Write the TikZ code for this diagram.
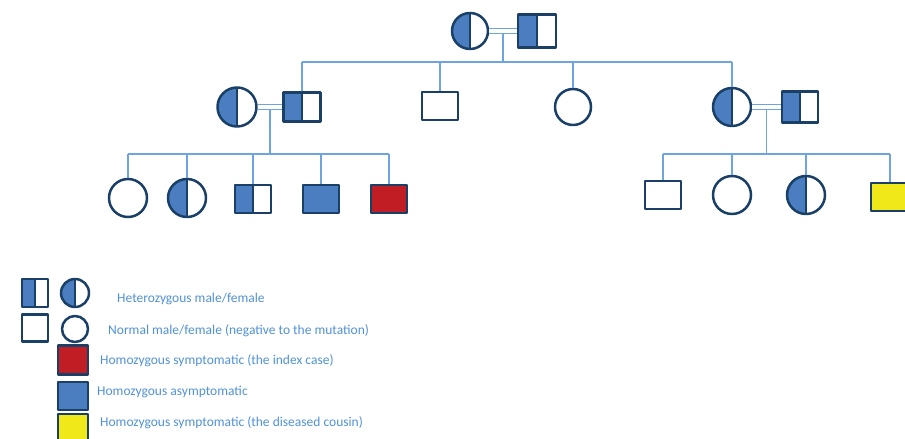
\documentclass[tikz,border=0pt]{standalone}
\usepackage{fontspec}
\setmainfont{Carlito}
\definecolor{pedblue}{RGB}{74,126,192}
\definecolor{pedline}{RGB}{26,64,104}
\definecolor{pedlink}{RGB}{110,165,225}
\definecolor{pedred}{RGB}{192,30,36}
\definecolor{pedyellow}{RGB}{240,232,24}
\definecolor{pedtext}{RGB}{80,145,215}
\begin{document}
\begin{tikzpicture}[x=1pt,y=-1pt,join=round]
    \tikzstyle{male} = [draw=pedline,line width=2.5pt,fill=white,minimum width=36pt,
                        minimum height=28pt,inner sep=0pt]
    \tikzstyle{female} = [draw=pedline,line width=2.5pt,fill=white,circle,
                          minimum size=38pt,inner sep=0pt]
    \tikzstyle{het} = [path picture={\fill[pedblue] (path picture bounding box.south west)
                          rectangle (path picture bounding box.north);
                       \draw[pedline,line width=2.2pt] (path picture bounding box.south)
                          -- (path picture bounding box.north);}]
    \tikzstyle{link} = [draw=pedlink,line width=1.2pt]
    \tikzstyle{couple} = [link,double=white,double distance=4pt]
    \tikzstyle{key} = [text=pedtext,anchor=west,inner sep=0pt,
                       font=\fontsize{13.5}{15}\selectfont]
    \useasboundingbox (0,0) rectangle (905,439);
    % generation I
    \node[female,het,minimum size=36pt] (g1f) at (470,31) {};
    \node[male,het,minimum width=38pt,minimum height=33pt] (g1m) at (537,31) {};
    % generation II
    \node[female,het,minimum size=39pt] (g2a) at (237,107) {};
    \node[male,het,minimum width=37pt,minimum height=29pt] (g2b) at (302,107) {};
    \node[male] (g2c) at (440,106) {};
    \node[female,minimum size=36pt] (g2d) at (573,107) {};
    \node[female,het] (g2e) at (732,107) {};
    \node[male,het,minimum height=31pt] (g2f) at (800,107) {};
    % generation III
    \node[female] (g3a) at (128,198) {};
    \node[female,het] (g3b) at (187,198) {};
    \node[male,het] (g3c) at (253,199) {};
    \node[male,fill=pedblue] (g3d) at (321,199) {};
    \node[male,fill=pedred] (g3e) at (389,199) {};
    \node[male] (g3f) at (663,195) {};
    \node[female] (g3g) at (732,195) {};
    \node[female,het] (g3h) at (806,195) {};
    \node[male,fill=pedyellow,minimum width=38pt] (g3i) at (890,197) {};
    % sibship lines
    \coordinate (sib1) at (0,62);
    \coordinate (sib2) at (0,154);
    \path (g1f) -- node[coordinate] (u1) {} (g1m);
    \path (g2a) -- node[coordinate] (u2) {} (g2b);
    \path (g2e) -- node[coordinate] (u3) {} (g2f);
    \draw[link] (u1) -- (u1 |- sib1);
    \draw[link] (u2) -- (u2 |- sib2);
    \draw[link] (u3) -- (u3 |- sib2);
    \draw[link] (g2b.north |- sib1) -- (g2e.north |- sib1);
    \draw[link] (g3a.north |- sib2) -- (g3e.north |- sib2);
    \draw[link] (g3f.north |- sib2) -- (g3i.north |- sib2);
    \foreach \k in {g2b,g2c,g2d,g2e}
        \draw[link] (\k.north) -- (\k.north |- sib1);
    \foreach \k in {g3a,g3b,g3c,g3d,g3e,g3f,g3g,g3h,g3i}
        \draw[link] (\k.north) -- (\k.north |- sib2);
    \draw[couple] (g1f) -- (g1m);
    \draw[couple] (g2a) -- (g2b);
    \draw[couple] (g2e) -- (g2f);
    % key
    \node[male,het,minimum width=26pt] (k1m) at (35,293) {};
    \node[female,het,minimum size=28pt] (k1f) at (75,293) {};
    \node[male,minimum width=26pt,minimum height=27pt] (k2m) at (35,328) {};
    \node[female,minimum size=26pt] (k2f) at (75,329) {};
    \node[male,fill=pedred,minimum width=30pt,minimum height=29pt] (k3) at (73,360) {};
    \node[male,fill=pedblue,minimum width=30pt] (k4) at (73,396) {};
    \node[male,fill=pedyellow,minimum width=30pt] (k5) at (73,428) {};
    \node[key] (t1) at (117,299) {Heterozygous male/female};
    \node[key] (t2) at (108,331) {Normal male/female (negative to the mutation)};
    \node[key] (t3) at (100,361) {Homozygous symptomatic (the index case)};
    \node[key] (t4) at (97,392) {Homozygous asymptomatic};
    \node[key] (t5) at (100,423) {Homozygous symptomatic (the diseased cousin)};
\end{tikzpicture}
\end{document}
